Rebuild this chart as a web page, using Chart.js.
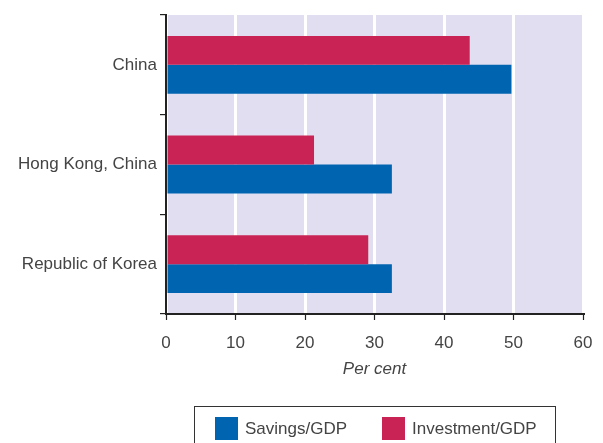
<!DOCTYPE html>
<html>
<head>
<meta charset="utf-8">
<script src="https://cdn.jsdelivr.net/npm/chart.js@4.4.1/dist/chart.umd.min.js"></script>
<style>
  html, body { margin: 0; padding: 0; background: #fff; }
  #wrap { position: relative; width: 603px; height: 443px; overflow: hidden; }
  #legend {
    position: absolute; left: 194px; top: 406px; width: 362px; height: 60px;
    border: 1.5px solid #333; box-sizing: border-box;
    font-family: "Liberation Sans", Arial, sans-serif; font-size: 17px; color: #444;
  }
  .item { position: absolute; top: 10px; display: flex; align-items: center; }
  .swatch { width: 23px; height: 23px; margin-right: 7px; }
</style>
</head>
<body>
<div id="wrap">
  <canvas id="saveInvChart" width="603" height="443"></canvas>
  <div id="legend"></div>
</div>
<script>
const categories = ["China", "Hong Kong, China", "Republic of Korea"];
const savingsGdp = [49.7, 32.5, 32.5];
const investmentGdp = [43.7, 21.3, 29.1];
const xTicks = [0, 10, 20, 30, 40, 50, 60];

const BLUE = "#0064b1";
const RED = "#c92355";
const TEXT = "#444";

// lavender panel behind the bars
const plotBg = {
  id: "plotBg",
  beforeDraw(chart) {
    const { ctx, chartArea: a } = chart;
    ctx.save();
    ctx.fillStyle = "#e0def0";
    ctx.fillRect(a.left, a.top, a.right - a.left, a.bottom - a.top);
    ctx.restore();
  }
};

const font = { family: "'Liberation Sans', Arial, sans-serif", size: 17 };

new Chart(document.getElementById("saveInvChart").getContext("2d"), {
  type: "bar",
  data: {
    labels: categories,
    datasets: [
      { label: "Investment/GDP", data: investmentGdp, backgroundColor: RED },
      { label: "Savings/GDP", data: savingsGdp, backgroundColor: BLUE }
    ]
  },
  options: {
    indexAxis: "y",
    responsive: false,
    animation: false,
    categoryPercentage: 0.58,
    barPercentage: 1.0,
    layout: { padding: { left: 0, right: 20, top: 15, bottom: 59 } },
    plugins: { legend: { display: false }, tooltip: { enabled: false } },
    scales: {
      x: {
        min: 0, max: 60,
        afterBuildTicks(axis) { axis.ticks = xTicks.map(v => ({ value: v })); },
        afterFit(axis) {
          axis.height = 70;
          // end labels fit inside the page margin, no extra room needed
          axis.paddingLeft = 0;
          axis.paddingRight = 0;
        },
        grid: { color: "#fff", lineWidth: 3, tickColor: "#222", tickLength: 6, tickWidth: 1.2 },
        border: { color: "#222", width: 2 },
        ticks: { color: TEXT, font: font, padding: 13 },
        title: {
          display: true, text: "Per cent", color: TEXT,
          font: { family: font.family, size: 17, style: "italic" },
          padding: { top: 0, bottom: 5 }
        }
      },
      y: {
        afterFit(axis) { axis.width = 166; },
        grid: { offset: true, drawOnChartArea: false, color: "#222", tickLength: 6, lineWidth: 1.2 },
        border: { color: "#222", width: 2 },
        ticks: { color: TEXT, font: font, padding: 3 }
      }
    }
  },
  plugins: [plotBg]
});

// legend lists savings first, as in the key box
const legendItems = [
  { label: "Savings/GDP", color: BLUE, left: 20 },
  { label: "Investment/GDP", color: RED, left: 187 }
];
const legend = document.getElementById("legend");
legendItems.forEach(it => {
  const el = document.createElement("div");
  el.className = "item";
  el.style.left = it.left + "px";
  el.innerHTML = '<span class="swatch" style="background:' + it.color + '"></span><span>' + it.label + '</span>';
  legend.appendChild(el);
});
</script>
</body>
</html>
